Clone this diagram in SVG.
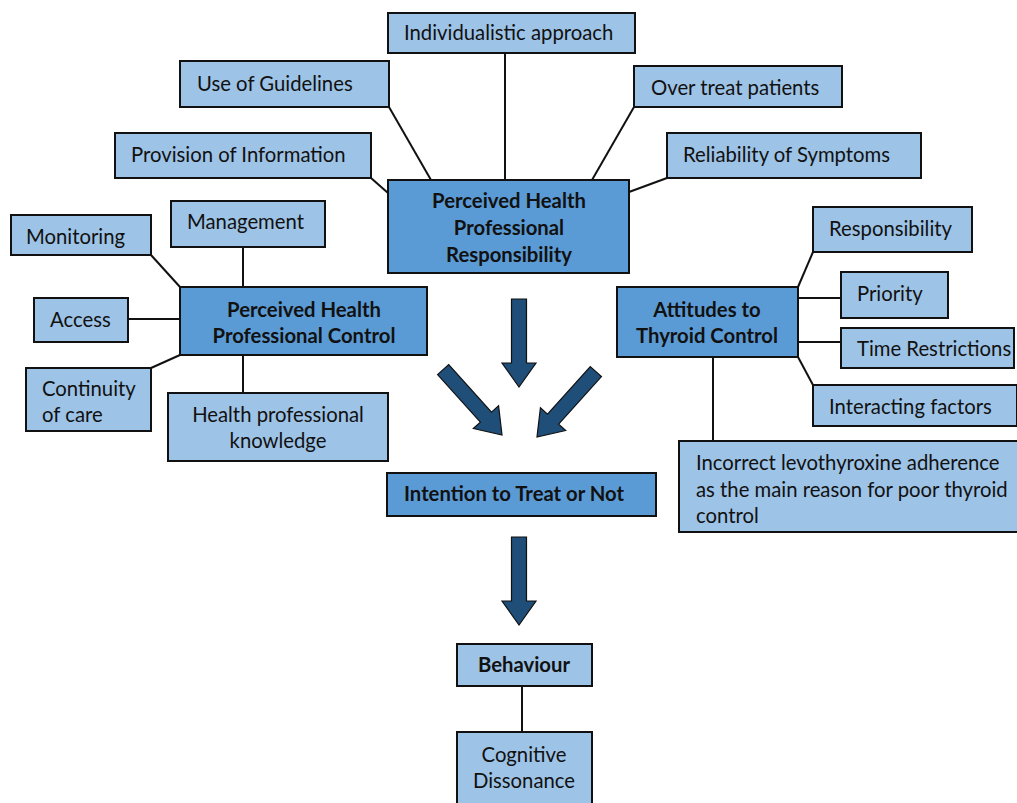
<svg xmlns="http://www.w3.org/2000/svg" width="1017" height="803" viewBox="0 0 1017 803">
<defs>
<style>
.main{fill:#5b9bd5;stroke:#111;stroke-width:2}
.sub{fill:#9dc3e6;stroke:#111;stroke-width:2}
.ln{stroke:#111;stroke-width:2;fill:none}
.arr{fill:#1f4e79;stroke:#111;stroke-width:1.2}
text{font-family:"Lato","Open Sans","Liberation Sans",sans-serif;font-size:20.3px;fill:#111}
.b{font-weight:bold}
.m{text-anchor:middle}
</style>
<polygon id="arrow" points="-7.5,-88 7.5,-88 7.5,-24 17,-24 0,0 -17,-24 -7.5,-24"/>
</defs>
<rect width="1017" height="803" fill="#fff"/>
<g id="connectors">
<line class="ln" x1="389" y1="107" x2="431" y2="180"/>
<line class="ln" x1="505" y1="53" x2="505" y2="180"/>
<line class="ln" x1="634" y1="107" x2="592" y2="180"/>
<line class="ln" x1="667" y1="178" x2="629" y2="192"/>
<line class="ln" x1="371" y1="178" x2="388" y2="193"/>
<line class="ln" x1="151" y1="255" x2="180" y2="287"/>
<line class="ln" x1="243" y1="247" x2="243" y2="287"/>
<line class="ln" x1="128" y1="319" x2="180" y2="319"/>
<line class="ln" x1="151" y1="368" x2="180" y2="355"/>
<line class="ln" x1="243" y1="355" x2="243" y2="393"/>
<line class="ln" x1="798" y1="287" x2="813" y2="252"/>
<line class="ln" x1="798" y1="298" x2="841" y2="298"/>
<line class="ln" x1="798" y1="342" x2="841" y2="342"/>
<line class="ln" x1="798" y1="357" x2="813" y2="385"/>
<line class="ln" x1="713" y1="357" x2="713" y2="441"/>
<line class="ln" x1="522" y1="686" x2="522" y2="733"/>
<use href="#arrow" class="arr" transform="translate(519,387)"/>
<use href="#arrow" class="arr" transform="translate(502,435) rotate(-42)"/>
<use href="#arrow" class="arr" transform="translate(537,437) rotate(42)"/>
<use href="#arrow" class="arr" transform="translate(519,625)"/>
</g>
<g id="n-individualistic"><rect class="sub" x="388" y="13" width="247" height="40"/><text x="404" y="40">Individualistic approach</text></g>
<g id="n-guidelines"><rect class="sub" x="180" y="61" width="209" height="46"/><text x="197" y="91">Use of Guidelines</text></g>
<g id="n-provision"><rect class="sub" x="115" y="133" width="256" height="45"/><text x="131" y="162">Provision of Information</text></g>
<g id="n-overtreat"><rect class="sub" x="634" y="66" width="208" height="41"/><text x="651" y="95">Over treat patients</text></g>
<g id="n-reliability"><rect class="sub" x="667" y="133" width="254" height="45"/><text x="683" y="162">Reliability of Symptoms</text></g>
<g id="n-phpr"><rect class="main" x="388" y="180" width="241" height="93"/><text class="b m" x="509" y="208">Perceived Health</text><text class="b m" x="509" y="235">Professional</text><text class="b m" x="509" y="262">Responsibility</text></g>
<g id="n-management"><rect class="sub" x="171" y="201" width="154" height="46"/><text x="187" y="229">Management</text></g>
<g id="n-monitoring"><rect class="sub" x="11" y="215" width="140" height="40"/><text x="26" y="244">Monitoring</text></g>
<g id="n-access"><rect class="sub" x="34" y="298" width="94" height="44"/><text x="50" y="327">Access</text></g>
<g id="n-continuity"><rect class="sub" x="26" y="368" width="125" height="63"/><text x="42" y="396">Continuity</text><text x="42" y="422">of care</text></g>
<g id="n-hpk"><rect class="sub" x="168" y="393" width="220" height="68"/><text class="m" x="278" y="422">Health professional</text><text class="m" x="278" y="448">knowledge</text></g>
<g id="n-phpc"><rect class="main" x="180" y="287" width="247" height="68"/><text class="b m" x="304" y="317">Perceived Health</text><text class="b m" x="304" y="343">Professional Control</text></g>
<g id="n-attitudes"><rect class="main" x="617" y="287" width="181" height="70"/><text class="b m" x="707" y="317">Attitudes to</text><text class="b m" x="707" y="343">Thyroid Control</text></g>
<g id="n-responsibility"><rect class="sub" x="813" y="207" width="159" height="45"/><text x="829" y="236">Responsibility</text></g>
<g id="n-priority"><rect class="sub" x="841" y="272" width="107" height="46"/><text x="857" y="301">Priority</text></g>
<g id="n-time"><rect class="sub" x="841" y="328" width="173" height="40"/><text x="857" y="356">Time Restrictions</text></g>
<g id="n-interacting"><rect class="sub" x="813" y="385" width="204" height="41"/><text x="829" y="414">Interacting factors</text></g>
<g id="n-incorrect"><rect class="sub" x="679" y="441" width="340" height="91"/><text x="696" y="470">Incorrect levothyroxine adherence</text><text x="696" y="497">as the main reason for poor thyroid</text><text x="696" y="523">control</text></g>
<g id="n-intention"><rect class="main" x="387" y="473" width="269" height="43"/><text class="b" x="404" y="501">Intention to Treat or Not</text></g>
<g id="n-behaviour"><rect class="sub" x="457" y="644" width="135" height="42"/><text class="b m" x="524" y="672">Behaviour</text></g>
<g id="n-cognitive"><rect class="sub" x="457" y="732" width="135" height="80"/><text class="m" x="524" y="762">Cognitive</text><text class="m" x="524" y="788">Dissonance</text></g>
</svg>
